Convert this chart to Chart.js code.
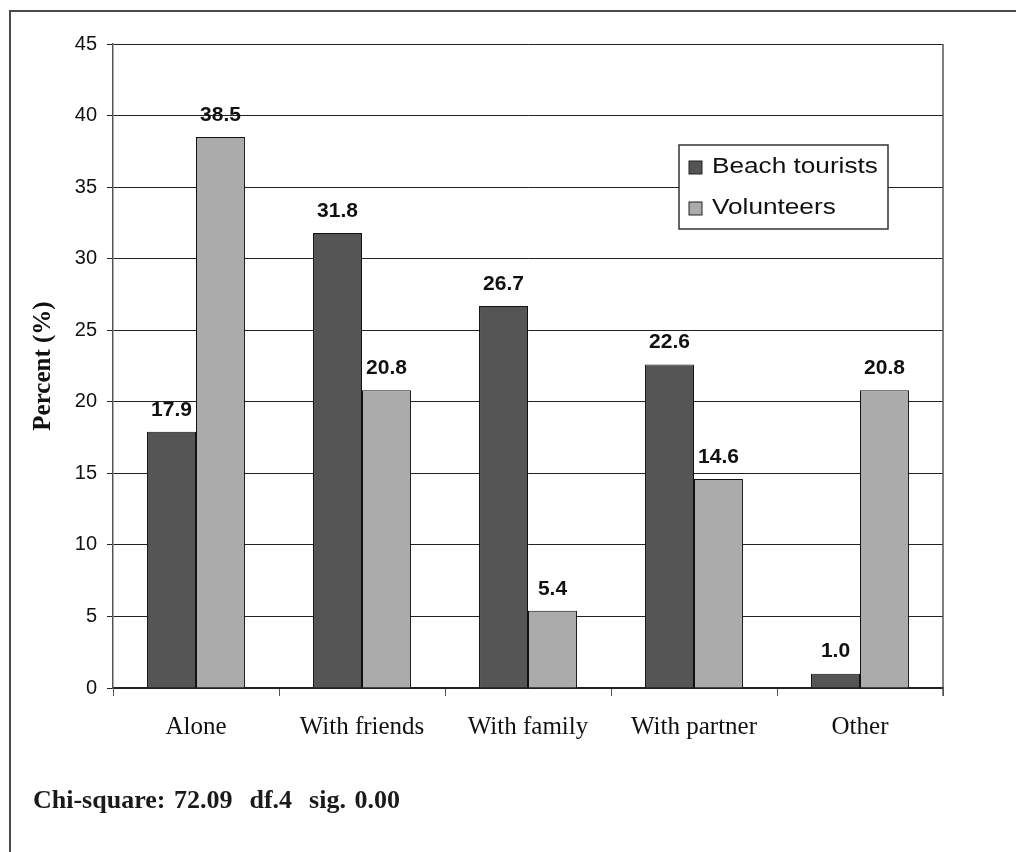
<!DOCTYPE html>
<html>
<head>
<meta charset="utf-8">
<script src="https://cdn.jsdelivr.net/npm/chart.js@4/dist/chart.umd.min.js"></script>
<style>
    html, body { margin: 0; padding: 0; background: #fff; overflow: hidden; }
    #wrap { position: relative; width: 1016px; height: 852px; }
    #frame {
        position: absolute; left: 9px; top: 10px;
        width: 1100px; height: 900px;
        border: 2px solid #4a4a4a;
    }
    #financeChart { position: absolute; left: 0; top: 0; }
    #note {
        position: absolute; left: 33px; top: 785px;
        font-family: 'Liberation Serif', 'Times New Roman', serif;
        font-weight: bold; font-size: 26px; color: #1a1a1a;
        word-spacing: 2px;
    }
</style>
</head>
<body>
<div id="wrap">
    <div id="frame"></div>
    <canvas id="financeChart" width="1016" height="852"></canvas>
    <div id="note">Chi-square: 72.09&nbsp; df.4&nbsp; sig. 0.00</div>
</div>
<script>
// Chart data
const categories = ['Alone', 'With friends', 'With family', 'With partner', 'Other'];
const beachTourists = [17.9, 31.8, 26.7, 22.6, 1.0];
const volunteers = [38.5, 20.8, 5.4, 14.6, 20.8];
const yTicks = [0, 5, 10, 15, 20, 25, 30, 35, 40, 45];

const darkColor = '#555555';
const lightColor = '#ababab';

const ctx = document.getElementById('financeChart').getContext('2d');

// Value labels above each bar
const valueLabels = {
    id: 'valueLabels',
    afterDatasetsDraw(chart) {
        const c = chart.ctx;
        c.save();
        c.font = 'bold 21px "Liberation Sans", Arial, sans-serif';
        c.fillStyle = '#111';
        c.textAlign = 'center';
        c.textBaseline = 'middle';
        chart.data.datasets.forEach((ds, i) => {
            chart.getDatasetMeta(i).data.forEach((bar, j) => {
                c.fillText(ds.data[j].toFixed(1), bar.x, bar.y - 22);
            });
        });
        c.restore();
    }
};

// Right border of the plot + boxed legend inside the plot
const plotExtras = {
    id: 'plotExtras',
    afterDraw(chart) {
        const c = chart.ctx;
        const area = chart.chartArea;
        c.save();
        c.strokeStyle = '#555';
        c.lineWidth = 1.5;
        c.beginPath();
        c.moveTo(area.right, area.top);
        c.lineTo(area.right, area.bottom + 8);
        c.stroke();

        // legend box
        const bx = area.right - 264, by = area.top + 101, bw = 209, bh = 84;
        c.fillStyle = '#fff';
        c.fillRect(bx, by, bw, bh);
        c.strokeStyle = '#333';
        c.lineWidth = 1.5;
        c.strokeRect(bx, by, bw, bh);
        c.font = '22px "Liberation Sans", Arial, sans-serif';
        c.textBaseline = 'middle';
        chart.data.datasets.forEach((ds, i) => {
            const y = by + 22 + i * 41;
            c.fillStyle = ds.backgroundColor;
            c.fillRect(bx + 10, y - 6, 13, 13);
            c.strokeStyle = '#222';
            c.lineWidth = 1;
            c.strokeRect(bx + 10, y - 6, 13, 13);
            // text in the scan is a little wider than Arial
            c.save();
            c.translate(bx + 33, y);
            c.scale(1.19, 1);
            c.fillStyle = '#111';
            c.fillText(ds.label, 0, 0);
            c.restore();
        });
        c.restore();
    }
};

const chart = new Chart(ctx, {
    type: 'bar',
    data: {
        labels: categories,
        datasets: [
            {
                label: 'Beach tourists',
                data: beachTourists,
                backgroundColor: darkColor,
                borderColor: '#111',
                borderWidth: 1
            },
            {
                label: 'Volunteers',
                data: volunteers,
                backgroundColor: lightColor,
                borderColor: '#111',
                borderWidth: 1
            }
        ]
    },
    options: {
        responsive: false,
        animation: false,
        layout: { padding: { left: 0, top: 44, right: 73, bottom: 0 } },
        datasets: {
            bar: { categoryPercentage: 0.59, barPercentage: 1.0 }
        },
        plugins: {
            legend: { display: false },
            tooltip: { enabled: false }
        },
        scales: {
            x: {
                offset: true,
                grid: {
                    offset: true,
                    drawOnChartArea: false,
                    color: '#555',
                    tickLength: 8
                },
                border: { color: '#222', width: 1.5 },
                ticks: {
                    color: '#111',
                    padding: 16,
                    font: { family: '"Liberation Serif", "Times New Roman", serif', size: 25 }
                },
                afterFit(scale) { scale.height = 164; }
            },
            y: {
                min: 0,
                max: 45,
                afterBuildTicks(scale) {
                    scale.ticks = yTicks.map(v => ({ value: v }));
                },
                grid: {
                    color: '#222',
                    lineWidth: 1,
                    tickLength: 6
                },
                border: { color: '#555', width: 1.5 },
                ticks: {
                    color: '#111',
                    padding: 10,
                    font: { family: '"Liberation Sans", Arial, sans-serif', size: 20 }
                },
                title: {
                    display: true,
                    text: 'Percent (%)',
                    color: '#111',
                    padding: { top: 29, bottom: 0 },
                    font: { family: '"Liberation Serif", "Times New Roman", serif', size: 25, weight: 'bold' }
                },
                afterFit(scale) { scale.width = 113; }
            }
        }
    },
    plugins: [valueLabels, plotExtras]
});
</script>
</body>
</html>
